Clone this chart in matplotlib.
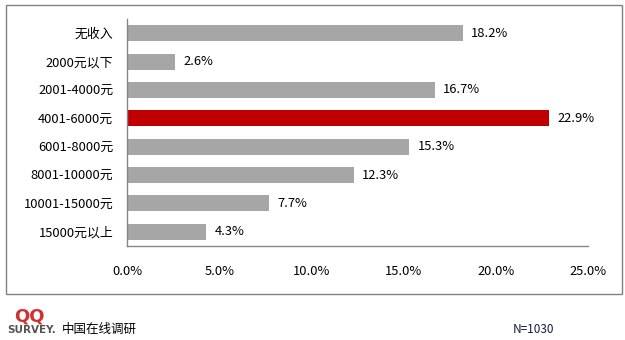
import matplotlib.pyplot as plt
from matplotlib.patches import Rectangle

plt.rcParams['font.family'] = ['Noto Sans CJK SC', 'DejaVu Sans']

# 月收入分布
categories = ['无收入', '2000元以下', '2001-4000元', '4001-6000元',
              '6001-8000元', '8001-10000元', '10001-15000元', '15000元以上']
values = [18.2, 2.6, 16.7, 22.9, 15.3, 12.3, 7.7, 4.3]
highlight = '4001-6000元'
xticks = [0, 5, 10, 15, 20, 25]

fig = plt.figure(figsize=(6.25, 3.4), dpi=100)
ax = fig.add_axes([0.2032, 0.2765, 0.7376, 0.6676])

colors = ['#c00000' if c == highlight else '#a6a6a6' for c in categories]
y = range(len(categories))
ax.barh(y, values, height=0.56, color=colors)
for yi, v in zip(y, values):
    ax.text(v + 0.45, yi, f'{v:.1f}%', va='center', ha='left', fontsize=9.3)

ax.set_xlim(0, 25)
ax.set_ylim(len(categories) - 0.5, -0.5)
ax.set_yticks(list(y))
ax.set_yticklabels(categories, fontsize=9.3)
ax.set_xticks(xticks)
ax.set_xticklabels([f'{t:.1f}%' for t in xticks], fontsize=9.3)
ax.tick_params(axis='x', length=0, pad=14)
ax.tick_params(axis='y', length=0, pad=10)

for side in ['top', 'right']:
    ax.spines[side].set_visible(False)
for side in ['left', 'bottom']:
    ax.spines[side].set_color('#878787')
    ax.spines[side].set_linewidth(1)

# 外框
fig.patches.append(Rectangle((6 / 625, 1 - 294 / 340), 616 / 625, 289 / 340,
                             transform=fig.transFigure, fill=False,
                             edgecolor='#808080', linewidth=1))

# 页脚
fig.text(0.022, 0.055, 'QQ', color='#d03030', fontsize=13, fontweight='bold',
         family='DejaVu Sans')
fig.text(0.011, 0.022, 'SURVEY.', color='#555555', fontsize=7.5, fontweight='bold',
         family='DejaVu Sans')
fig.text(0.099, 0.022, '中国在线调研', color='black', fontsize=9)
fig.text(0.82, 0.022, 'N=1030', color='#1a1a40', fontsize=8.5)

fig.savefig('out.png', dpi=100)
